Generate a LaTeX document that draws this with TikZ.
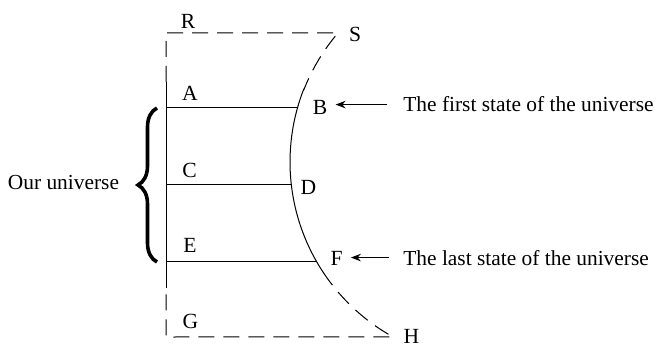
\documentclass[tikz,border=0pt]{standalone}
\usepackage{fontspec}
\setmainfont{Liberation Serif}
\usetikzlibrary{arrows.meta}
\usetikzlibrary{decorations.pathreplacing}

\begin{document}
\begin{tikzpicture}[x=0.5pt,y=-0.5pt]

    \tikzstyle{edge}+=[
        line width = 0.5pt
    ]
    \tikzstyle{iline}+=[
        edge,
        dash pattern=on 8pt off 4.5pt
    ]
    \tikzstyle{letter}+=[
        font=\fontsize{10.8}{12}\selectfont,
        inner sep=1pt
    ]
    \tikzstyle{caption}+=[
        font=\fontsize{10.7}{13}\selectfont,
        inner sep=3.5pt
    ]
    \tikzstyle{arrow}+=[
        -{Stealth[length=5pt,width=3.8pt]},
        line width = 0.6pt
    ]

    \useasboundingbox (0,0) rectangle (657,347);

    % ----------------------------------------------------------------------------
    \coordinate(centre) at (490,162);
    \coordinate(R) at (166,33);
    \coordinate(G) at (166,337);
    \coordinate(top) at (166,82);
    \coordinate(bottom) at (166,288);
    \coordinate(a) at (166,108);
    \coordinate(c) at (166,185);
    \coordinate(e) at (166,261);
    \path (centre) ++(220.5:200) coordinate(S);
    \path (centre) ++(201.5:200) coordinate(solidup);
    \path (centre) ++(195.7:200) coordinate(b);
    \path (centre) ++(173.4:200) coordinate(d);
    \path (centre) ++(150.3:200) coordinate(f);
    \path (centre) ++(146.6:200) coordinate(soliddown);
    \path (centre) ++(119:200) coordinate(H);

    % ----------------------------------------------------------------------------
    \draw[iline] (top) -- (R) -- (R -| S) arc[start angle=220.5, end angle=201.5, radius=200];
    \draw[iline] (soliddown) arc[start angle=146.6, end angle=119, radius=200] -- (G) -- (bottom);
    \draw[edge] (top) -- (bottom);
    \draw[edge] (solidup) arc[start angle=201.5, end angle=146.6, radius=200];

    % ----------------------------------------------------------------------------
    \draw[edge] (a) -- (a -| b);
    \draw[edge] (c) -- (c -| d);
    \draw[edge] (e) -- (e -| f);

    % ----------------------------------------------------------------------------
    \node[letter] (lblR) at (188,21) {R};
    \node[letter] (lblS) at (355,34.5) {S};
    \node[letter] (lblA) at (190,93.5) {A};
    \node[letter] (lblB) at (320,107.5) {B};
    \node[letter] (lblC) at (189.5,170) {C};
    \node[letter] (lblD) at (308.5,187.5) {D};
    \node[letter] (lblE) at (190,245) {E};
    \node[letter] (lblF) at (336.5,258.5) {F};
    \node[letter] (lblG) at (190.5,321.5) {G};
    \node[letter] (lblH) at (411.5,336.5) {H};

    % ----------------------------------------------------------------------------
    \node[caption,anchor=base west] (first) at (396,112) {The first state of the universe};
    \node[caption,anchor=base west] (last) at (396,265) {The last state of the universe};
    \node[caption,anchor=base west] (ours) at (0.5,190) {Our universe};

    \draw[arrow,shorten <=4.5pt,shorten >=3pt] (first.west) -- (first.west -| lblB.east);
    \draw[arrow,shorten <=3.5pt,shorten >=3pt] (last.west) -- (last.west -| lblF.east);

    % ----------------------------------------------------------------------------
    \draw[decorate,decoration={brace,amplitude=9.5pt},line width=1.8pt] (157,262) -- (157,108);

\end{tikzpicture}
\end{document}
